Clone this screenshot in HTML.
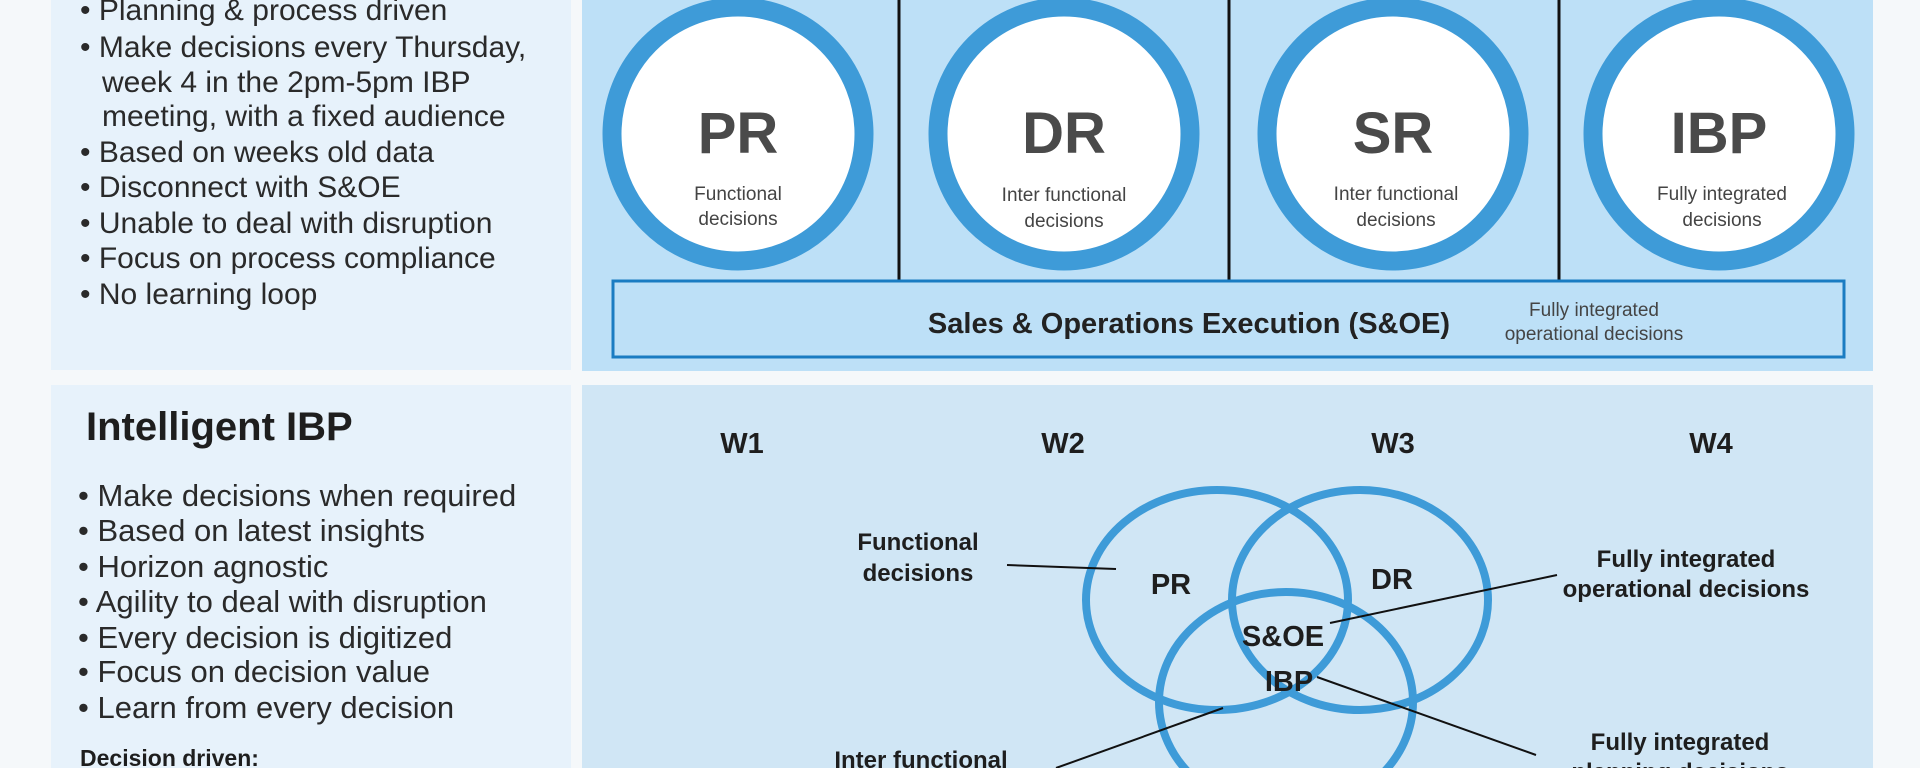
<!DOCTYPE html>
<html><head><meta charset="utf-8"><style>
html,body{margin:0;padding:0;background:#f5f8fa;overflow:hidden;}
svg{display:block;}
text{font-family:"Liberation Sans",sans-serif;}
</style></head><body>
<svg width="1920" height="768" viewBox="0 0 1920 768" xmlns="http://www.w3.org/2000/svg">
<rect x="0" y="0" width="1920" height="768" fill="#f5f8fa"/>
<rect x="51" y="0" width="520" height="370" fill="#e7f2fb"/>
<rect x="582" y="0" width="1291" height="371" fill="#bde0f7"/>
<rect x="51" y="385" width="520" height="383" fill="#e7f2fb"/>
<rect x="582" y="385" width="1291" height="383" fill="#d0e6f5"/>

<!-- top left bullets -->
<g font-size="30" fill="#2a2a2a">
<text x="80" y="20">• Planning &amp; process driven</text>
<text x="80" y="57">• Make decisions every Thursday,</text>
<text x="102" y="92">week 4 in the 2pm-5pm IBP</text>
<text x="102" y="126">meeting, with a fixed audience</text>
<text x="80" y="162">• Based on weeks old data</text>
<text x="80" y="197">• Disconnect with S&amp;OE</text>
<text x="80" y="233">• Unable to deal with disruption</text>
<text x="80" y="268">• Focus on process compliance</text>
<text x="80" y="304">• No learning loop</text>
</g>

<!-- dividers -->
<g stroke="#111" stroke-width="3">
<line x1="899" y1="0" x2="899" y2="280"/>
<line x1="1229" y1="0" x2="1229" y2="280"/>
<line x1="1559" y1="0" x2="1559" y2="280"/>
</g>

<!-- top circles -->
<g fill="#fff" stroke="#3e9bd8" stroke-width="19">
<ellipse cx="738" cy="134" rx="126" ry="127"/>
<ellipse cx="1064" cy="134" rx="126" ry="127"/>
<ellipse cx="1393" cy="134" rx="126" ry="127"/>
<ellipse cx="1719" cy="134" rx="126" ry="127"/>
</g>
<g font-size="58" font-weight="bold" fill="#4a4a4a" text-anchor="middle">
<text x="738" y="153">PR</text>
<text x="1064" y="153">DR</text>
<text x="1393" y="153">SR</text>
<text x="1719" y="153">IBP</text>
</g>
<g font-size="19" fill="#444" text-anchor="middle">
<text x="738" y="200">Functional</text><text x="738" y="225">decisions</text>
<text x="1064" y="201">Inter functional</text><text x="1064" y="227">decisions</text>
<text x="1396" y="200">Inter functional</text><text x="1396" y="226">decisions</text>
<text x="1722" y="200">Fully integrated</text><text x="1722" y="226">decisions</text>
</g>

<!-- S&OE box -->
<rect x="613" y="281" width="1231" height="76" fill="#bde0f7" stroke="#1a7cc2" stroke-width="3"/>
<text x="1189" y="333" font-size="29" font-weight="bold" fill="#222" text-anchor="middle">Sales &amp; Operations Execution (S&amp;OE)</text>
<g font-size="19" fill="#444" text-anchor="middle">
<text x="1594" y="316">Fully integrated</text>
<text x="1594" y="340">operational decisions</text>
</g>

<!-- bottom left -->
<text x="86" y="440" font-size="40" font-weight="bold" fill="#1e1e1e">Intelligent IBP</text>
<g font-size="31" fill="#2a2a2a">
<text x="78" y="506">• Make decisions when required</text>
<text x="78" y="541">• Based on latest insights</text>
<text x="78" y="577">• Horizon agnostic</text>
<text x="78" y="612">• Agility to deal with disruption</text>
<text x="78" y="648">• Every decision is digitized</text>
<text x="78" y="682">• Focus on decision value</text>
<text x="78" y="718">• Learn from every decision</text>
</g>
<text x="80" y="766" font-size="23" font-weight="bold" fill="#1e1e1e">Decision driven:</text>

<!-- W labels -->
<g font-size="29" font-weight="bold" fill="#1e1e1e" text-anchor="middle">
<text x="742" y="453">W1</text>
<text x="1063" y="453">W2</text>
<text x="1393" y="453">W3</text>
<text x="1711" y="453">W4</text>
</g>

<!-- venn -->
<g fill="none" stroke="#3e9bd8" stroke-width="8">
<ellipse cx="1217" cy="600" rx="131" ry="110"/>
<ellipse cx="1360" cy="600" rx="128" ry="110"/>
<ellipse cx="1286" cy="702" rx="127" ry="110"/>
</g>
<g font-size="29" font-weight="bold" fill="#1e1e1e" text-anchor="middle">
<text x="1171" y="594">PR</text>
<text x="1392" y="589">DR</text>
<text x="1283" y="646">S&amp;OE</text>
<text x="1289" y="691">IBP</text>
</g>
<g stroke="#111" stroke-width="2">
<line x1="1007" y1="565" x2="1116" y2="569"/>
<line x1="1330" y1="623" x2="1557" y2="575"/>
<line x1="1317" y1="677" x2="1536" y2="755"/>
<line x1="1223" y1="708" x2="1056" y2="768"/>
</g>
<g font-size="24" font-weight="bold" fill="#1e1e1e" text-anchor="middle">
<text x="918" y="550">Functional</text>
<text x="918" y="581">decisions</text>
<text x="1686" y="567">Fully integrated</text>
<text x="1686" y="597">operational decisions</text>
<text x="1680" y="750">Fully integrated</text>
<text x="1680" y="780">planning decisions</text>
<text x="921" y="768">Inter functional</text>
</g>
</svg>
</body></html>
